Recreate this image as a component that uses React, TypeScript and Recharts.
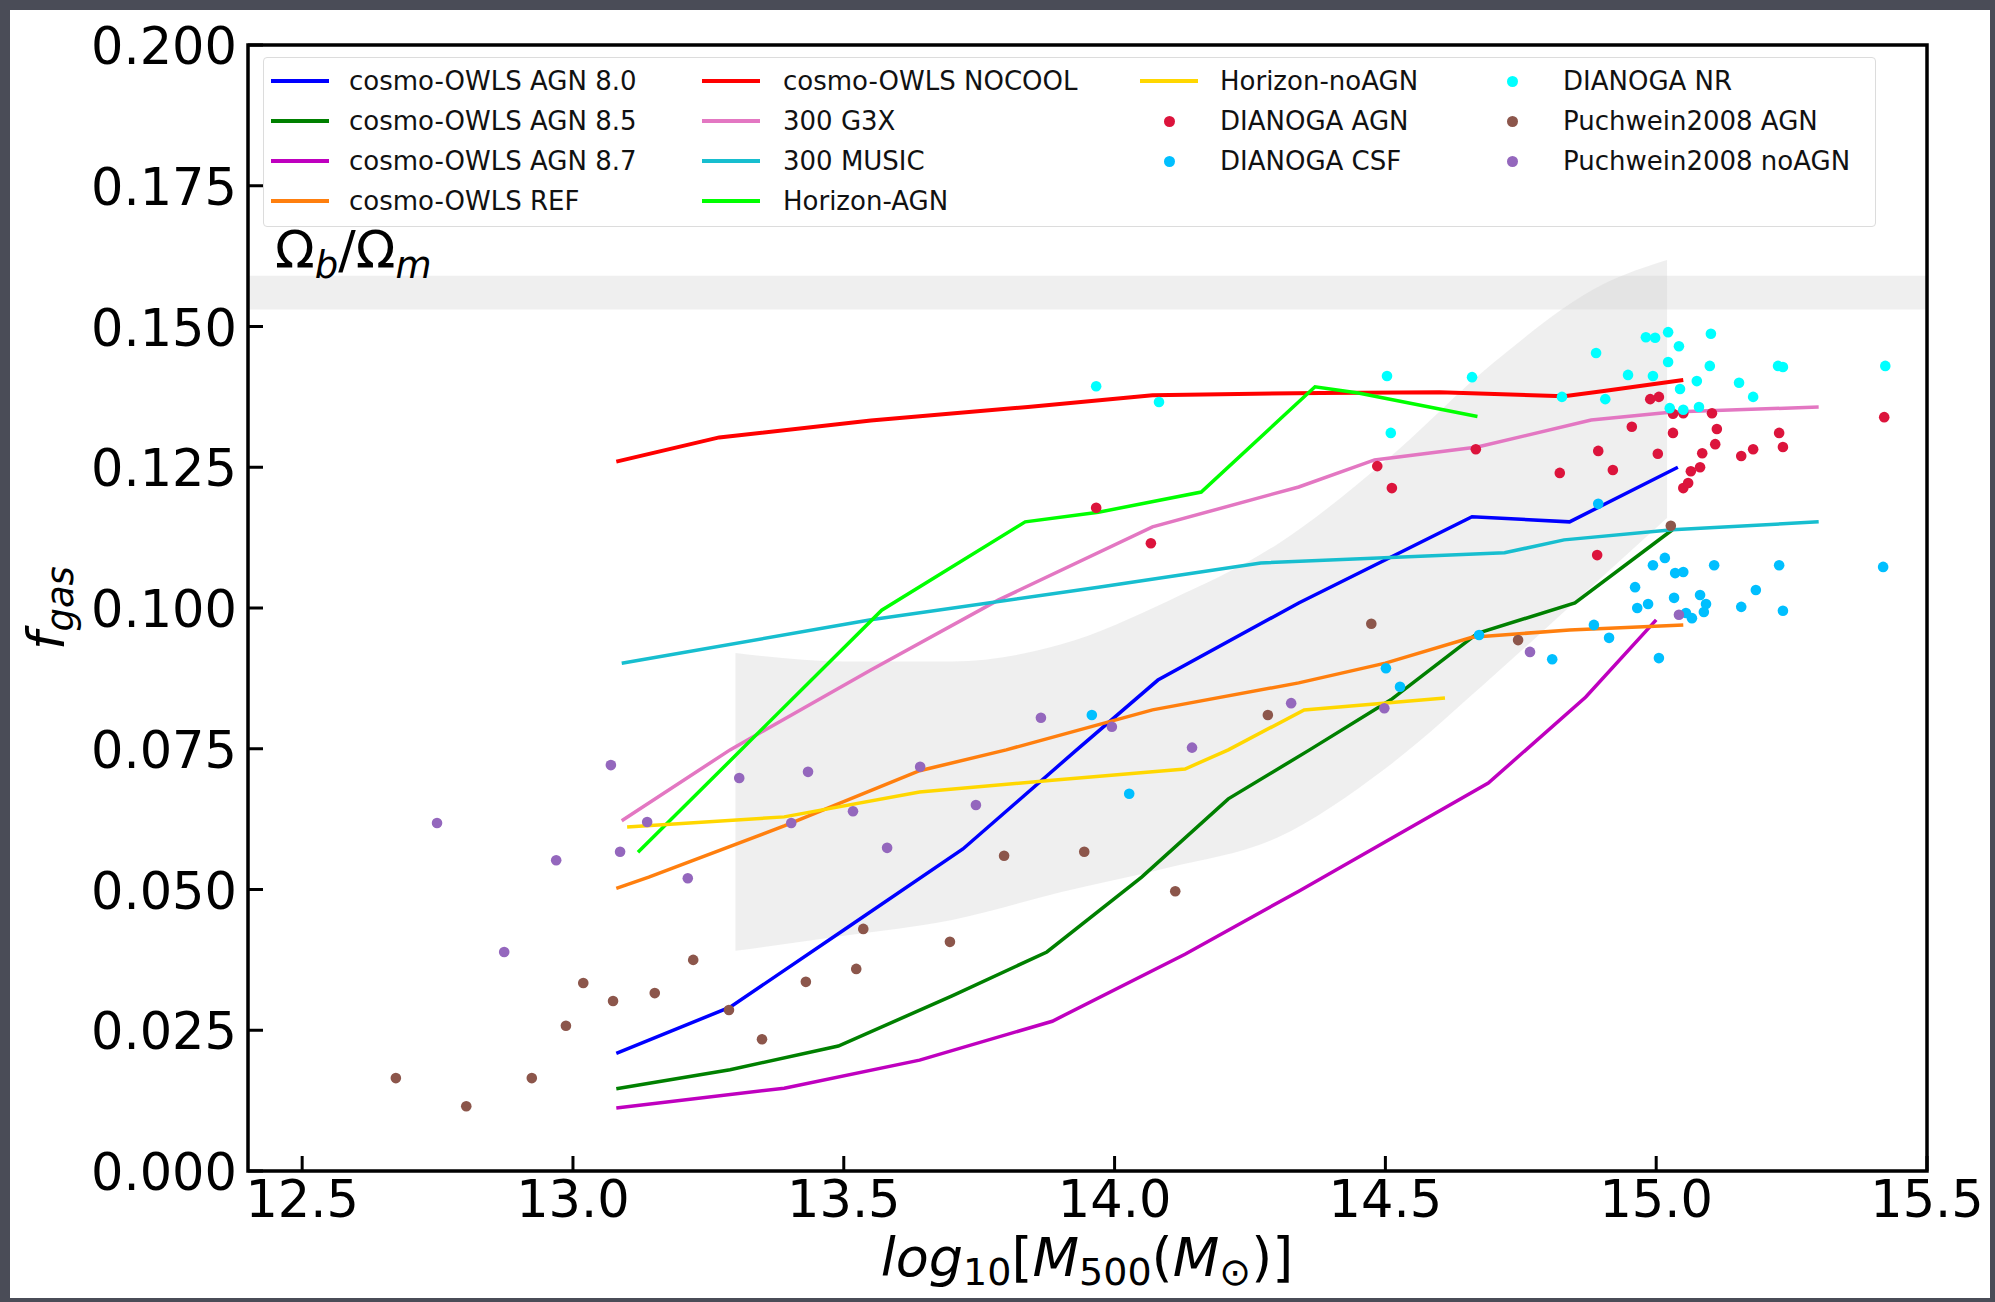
import React from "react";
import { ComposedChart, Line, Scatter, Area, XAxis, YAxis, ReferenceArea } from "recharts";

type Pt = [number, number];

const xTicks = [12.5, 13.0, 13.5, 14.0, 14.5, 15.0, 15.5];
const yTicks = [0, 0.025, 0.05, 0.075, 0.1, 0.125, 0.15, 0.175, 0.2];
const xDomain = [12.4, 15.5];
const yDomain = [0, 0.2];
const baryonBand = [0.153, 0.159];

// grey envelope
const shadeX = [13.3, 13.5, 13.7, 13.9, 14.1, 14.3, 14.5, 14.7, 14.9, 15.02];
const shadeLo = [0.0391, 0.0418, 0.0446, 0.0495, 0.0539, 0.0592, 0.0715, 0.088, 0.1055, 0.116];
const shadeHi = [0.092, 0.0905, 0.0905, 0.0935, 0.1013, 0.1113, 0.1261, 0.1436, 0.1574, 0.1618];

// simulation curves
const agn80: Pt[] = [[13.08, 0.0209], [13.29, 0.0291], [13.5, 0.0428], [13.72, 0.0572], [13.93, 0.0748], [14.08, 0.0872], [14.34, 0.1009], [14.66, 0.1162], [14.84, 0.1153], [15.04, 0.125]];
const agn85: Pt[] = [[13.08, 0.0146], [13.29, 0.018], [13.49, 0.0222], [13.7, 0.0311], [13.875, 0.0389], [14.05, 0.0522], [14.21, 0.0661], [14.36, 0.0748], [14.51, 0.0837], [14.67, 0.0955], [14.85, 0.1009], [15.03, 0.1139]];
const agn87: Pt[] = [[13.08, 0.0112], [13.39, 0.0147], [13.64, 0.0197], [13.885, 0.0266], [14.13, 0.0385], [14.34, 0.0497], [14.69, 0.0689], [14.87, 0.0842], [15.0, 0.0979]];
const owlsRef: Pt[] = [[13.08, 0.0502], [13.14, 0.0522], [13.39, 0.0613], [13.64, 0.0711], [13.8, 0.0748], [14.07, 0.0819], [14.34, 0.0867], [14.5, 0.0902], [14.66, 0.0948], [14.84, 0.0961], [15.05, 0.097]];
const noCool: Pt[] = [[13.08, 0.126], [13.27, 0.1303], [13.55, 0.1333], [13.84, 0.1357], [14.07, 0.1378], [14.38, 0.1382], [14.6, 0.1383], [14.83, 0.1376], [14.9, 0.1385], [15.05, 0.1405]];
const g3x: Pt[] = [[13.09, 0.0622], [13.29, 0.0748], [13.55, 0.089], [13.785, 0.1014], [14.07, 0.1144], [14.34, 0.1215], [14.48, 0.1263], [14.67, 0.1286], [14.88, 0.1334], [15.03, 0.1348], [15.3, 0.1357]];
const music: Pt[] = [[13.09, 0.0902], [13.55, 0.0979], [13.97, 0.1037], [14.27, 0.108], [14.72, 0.1098], [14.83, 0.1121], [15.03, 0.1139], [15.3, 0.1153]];
const horizonAgn: Pt[] = [[13.12, 0.0566], [13.57, 0.0996], [13.835, 0.1153], [13.97, 0.117], [14.16, 0.1206], [14.37, 0.1393], [14.45, 0.1382], [14.67, 0.134]];
const horizonNoAgn: Pt[] = [[13.1, 0.0611], [13.39, 0.0629], [13.64, 0.0673], [13.885, 0.0694], [14.13, 0.0714], [14.21, 0.0748], [14.35, 0.0819], [14.61, 0.084]];

// individual clusters
const dianogaAgn: Pt[] = [[13.966, 0.1178], [14.067, 0.1115], [14.485, 0.1252], [14.512, 0.1213], [14.667, 0.1282], [14.822, 0.124], [14.893, 0.1279], [14.92, 0.1245], [14.891, 0.1094], [14.955, 0.1322], [14.989, 0.1371], [15.005, 0.1375], [15.003, 0.1274], [15.031, 0.1345], [15.031, 0.1311], [15.05, 0.1346], [15.064, 0.1243], [15.081, 0.125], [15.05, 0.1213], [15.059, 0.1222], [15.085, 0.1275], [15.103, 0.1346], [15.112, 0.1318], [15.109, 0.1291], [15.157, 0.127], [15.179, 0.1282], [15.227, 0.1311], [15.234, 0.1286], [15.421, 0.1339]];
const dianogaCsf: Pt[] = [[14.027, 0.067], [13.958, 0.081], [14.501, 0.0893], [14.527, 0.086], [14.673, 0.0952], [14.808, 0.0909], [14.885, 0.097], [14.913, 0.0947], [14.893, 0.1185], [14.961, 0.1037], [14.965, 0.1], [14.985, 0.1007], [14.994, 0.1076], [15.016, 0.1089], [15.005, 0.0911], [15.035, 0.1062], [15.05, 0.1064], [15.033, 0.1018], [15.055, 0.0991], [15.066, 0.0982], [15.081, 0.1023], [15.092, 0.1007], [15.088, 0.0993], [15.107, 0.1076], [15.157, 0.1002], [15.184, 0.1032], [15.227, 0.1076], [15.234, 0.0995], [15.419, 0.1073]];
const dianogaNr: Pt[] = [[13.966, 0.1394], [14.082, 0.1366], [14.503, 0.1412], [14.51, 0.1311], [14.66, 0.141], [14.826, 0.1375], [14.906, 0.1371], [14.889, 0.1453], [14.948, 0.1414], [14.981, 0.1481], [14.998, 0.148], [15.022, 0.149], [15.042, 0.1465], [15.022, 0.1437], [14.994, 0.1412], [15.044, 0.1389], [15.075, 0.1403], [15.101, 0.1487], [15.099, 0.143], [15.025, 0.1355], [15.05, 0.1352], [15.079, 0.1357], [15.153, 0.14], [15.179, 0.1375], [15.225, 0.143], [15.234, 0.1428], [15.423, 0.143]];
const puchAgn: Pt[] = [[12.673, 0.0165], [12.803, 0.0115], [12.924, 0.0165], [12.987, 0.0258], [13.019, 0.0334], [13.074, 0.0302], [13.151, 0.0316], [13.222, 0.0375], [13.288, 0.0286], [13.349, 0.0234], [13.43, 0.0336], [13.523, 0.0359], [13.536, 0.043], [13.696, 0.0407], [13.796, 0.056], [13.944, 0.0567], [14.112, 0.0497], [14.283, 0.081], [14.474, 0.0972], [14.745, 0.0943], [15.027, 0.1146]];
const puchNoAgn: Pt[] = [[12.969, 0.0552], [12.873, 0.0389], [13.212, 0.052], [13.087, 0.0567], [13.07, 0.0721], [12.749, 0.0618], [13.137, 0.062], [13.307, 0.0698], [13.434, 0.0709], [13.641, 0.0718], [13.403, 0.0618], [13.517, 0.0639], [13.58, 0.0574], [13.744, 0.065], [14.143, 0.0752], [13.864, 0.0805], [13.995, 0.0789], [14.326, 0.0831], [14.498, 0.0822], [14.767, 0.0922], [15.042, 0.0988]];

const toXY = (arr: Pt[]) => arr.map(([x, y]) => ({ x, y }));
const shadeData = shadeX.map((x, i) => ({ x, range: [shadeLo[i], shadeHi[i]] }));

const lines = [
  { name: "cosmo-OWLS AGN 8.0", color: "#0000ff", data: agn80, w: 3.5 },
  { name: "cosmo-OWLS AGN 8.5", color: "#008000", data: agn85, w: 3.5 },
  { name: "cosmo-OWLS AGN 8.7", color: "#bf00bf", data: agn87, w: 3.5 },
  { name: "cosmo-OWLS REF", color: "#ff7f0e", data: owlsRef, w: 3.5 },
  { name: "cosmo-OWLS NOCOOL", color: "#ff0000", data: noCool, w: 4 },
  { name: "300 G3X", color: "#e377c2", data: g3x, w: 3.5 },
  { name: "300 MUSIC", color: "#17becf", data: music, w: 3.5 },
  { name: "Horizon-AGN", color: "#00ff00", data: horizonAgn, w: 3.5 },
  { name: "Horizon-noAGN", color: "#ffd700", data: horizonNoAgn, w: 3.5 },
];

const dots = [
  { name: "DIANOGA AGN", color: "#dc143c", data: dianogaAgn },
  { name: "DIANOGA CSF", color: "#00bfff", data: dianogaCsf },
  { name: "DIANOGA NR", color: "#00ffff", data: dianogaNr },
  { name: "Puchwein2008 AGN", color: "#8c564b", data: puchAgn },
  { name: "Puchwein2008 noAGN", color: "#9467bd", data: puchNoAgn },
];

const FONT = "DejaVu Sans, sans-serif";

const YTick = (props: any) => {
  const { x, y, payload } = props;
  return (
    <g>
      <line x1={x} x2={x + 15} y1={y} y2={y} stroke="#000" strokeWidth={3} />
      <text x={x - 11} y={y + 19} textAnchor="end" fontSize={51} fontFamily={FONT} fill="#000">
        {payload.value.toFixed(3)}
      </text>
    </g>
  );
};

const XTick = (props: any) => {
  const { x, y, payload } = props;
  return (
    <g>
      <line x1={x} x2={x} y1={y} y2={y - 15} stroke="#000" strokeWidth={3} />
      <text x={x} y={y + 46} textAnchor="middle" fontSize={51} fontFamily={FONT} fill="#000">
        {payload.value.toFixed(1)}
      </text>
    </g>
  );
};

// legend: matplotlib style, 4 columns filled column by column
const legendItems = [
  ...lines.map((l) => ({ name: l.name, color: l.color, kind: "line" })),
  ...dots.map((d) => ({ name: d.name, color: d.color, kind: "dot" })),
];
const colHandle = [7, 438, 876, 1219];
const colText = [85, 519, 956, 1299];
const rowY = [23, 63, 103, 143];
const colSizes = [4, 4, 3, 3];

function LegendBox() {
  let idx = 0;
  const cells: React.ReactNode[] = [];
  colSizes.forEach((n, c) => {
    for (let r = 0; r < n; r++) {
      const it = legendItems[idx++];
      cells.push(
        <div key={it.name} style={{ position: "absolute", left: 0, top: rowY[r] - 15, height: 30, width: "100%" }}>
          {it.kind === "line" ? (
            <div style={{ position: "absolute", left: colHandle[c], top: 13, width: 58, height: 3.5, background: it.color }} />
          ) : (
            <div style={{ position: "absolute", left: colHandle[c] + 24, top: 10, width: 11, height: 11, borderRadius: 6, background: it.color }} />
          )}
          <div style={{ position: "absolute", left: colText[c], top: 0, lineHeight: "30px", fontSize: 26, fontFamily: FONT, color: "#111", whiteSpace: "nowrap" }}>
            {it.name}
          </div>
        </div>
      );
    }
  });
  return (
    <div style={{ position: "absolute", left: 263, top: 57, width: 1613, height: 170, border: "1px solid #dcdcdc", borderRadius: 4, background: "rgba(255,255,255,0.85)", boxSizing: "border-box" }}>
      {cells}
    </div>
  );
}

export default function App() {
  return (
    <div style={{ position: "absolute", left: 0, top: 0, width: 1995, height: 1302, background: "#4a4c57", overflow: "hidden" }}>
      <div style={{ position: "absolute", left: 10, top: 10, width: 1980, height: 1288, background: "#fff" }} />
      <div style={{ position: "absolute", left: 0, top: 0 }}>
        <ComposedChart width={1995} height={1302} margin={{ top: 45, right: 68, bottom: 0, left: 0 }}>
          <XAxis
            dataKey="x"
            type="number"
            domain={xDomain}
            ticks={xTicks}
            height={131}
            tickSize={0}
            tickMargin={0}
            tick={<XTick />}
            axisLine={false}
            allowDataOverflow
          />
          <YAxis
            dataKey="y"
            type="number"
            domain={yDomain}
            ticks={yTicks}
            width={248}
            tickSize={0}
            tickMargin={0}
            tick={<YTick />}
            axisLine={false}
            allowDataOverflow
          />
          <ReferenceArea y1={baryonBand[0]} y2={baryonBand[1]} fill="#d0d0d0" fillOpacity={0.35} stroke="none" />
          <Area data={shadeData} dataKey="range" type="monotone" stroke="none" fill="#d0d0d0" fillOpacity={0.35} isAnimationActive={false} />
          {lines.map((l) => (
            <Line
              key={l.name}
              data={toXY(l.data)}
              dataKey="y"
              type="linear"
              stroke={l.color}
              strokeWidth={l.w}
              dot={false}
              isAnimationActive={false}
            />
          ))}
          {dots.map((d) => (
            <Scatter
              key={d.name}
              data={toXY(d.data)}
              fill={d.color}
              isAnimationActive={false}
              shape={(p: any) => <circle cx={p.cx} cy={p.cy} r={5.3} fill={d.color} />}
            />
          ))}
          <ReferenceArea
            x1={xDomain[0]}
            x2={xDomain[1]}
            y1={yDomain[0]}
            y2={yDomain[1]}
            fill="none"
            fillOpacity={0}
            stroke="#000"
            strokeWidth={3.5}
          />
        </ComposedChart>
      </div>
      <svg width={1995} height={1302} style={{ position: "absolute", left: 0, top: 0, pointerEvents: "none" }}>
        <text x={275} y={268} fontSize={52} fontFamily={FONT} fill="#000">
          Ω<tspan fontStyle="italic" fontSize={37} dy={10}>b</tspan>
          <tspan dy={-10}>/Ω</tspan>
          <tspan fontStyle="italic" fontSize={37} dy={10}>m</tspan>
        </text>
        <text x={1087} y={1276} textAnchor="middle" fontSize={54} fontFamily={FONT} fill="#000">
          <tspan fontStyle="italic">log</tspan>
          <tspan fontSize={38} dy={9}>10</tspan>
          <tspan dy={-9}>[</tspan>
          <tspan fontStyle="italic">M</tspan>
          <tspan fontSize={38} dy={9}>500</tspan>
          <tspan dy={-9}>(</tspan>
          <tspan fontStyle="italic">M</tspan>
          <tspan fontSize={38} dy={9}>⊙</tspan>
          <tspan dy={-9}>)]</tspan>
        </text>
        <text transform="translate(64,608) rotate(-90)" textAnchor="middle" fontSize={52} fontFamily={FONT} fill="#000" fontStyle="italic">
          f<tspan fontSize={37} dy={9}>gas</tspan>
        </text>
      </svg>
      <LegendBox />
    </div>
  );
}
